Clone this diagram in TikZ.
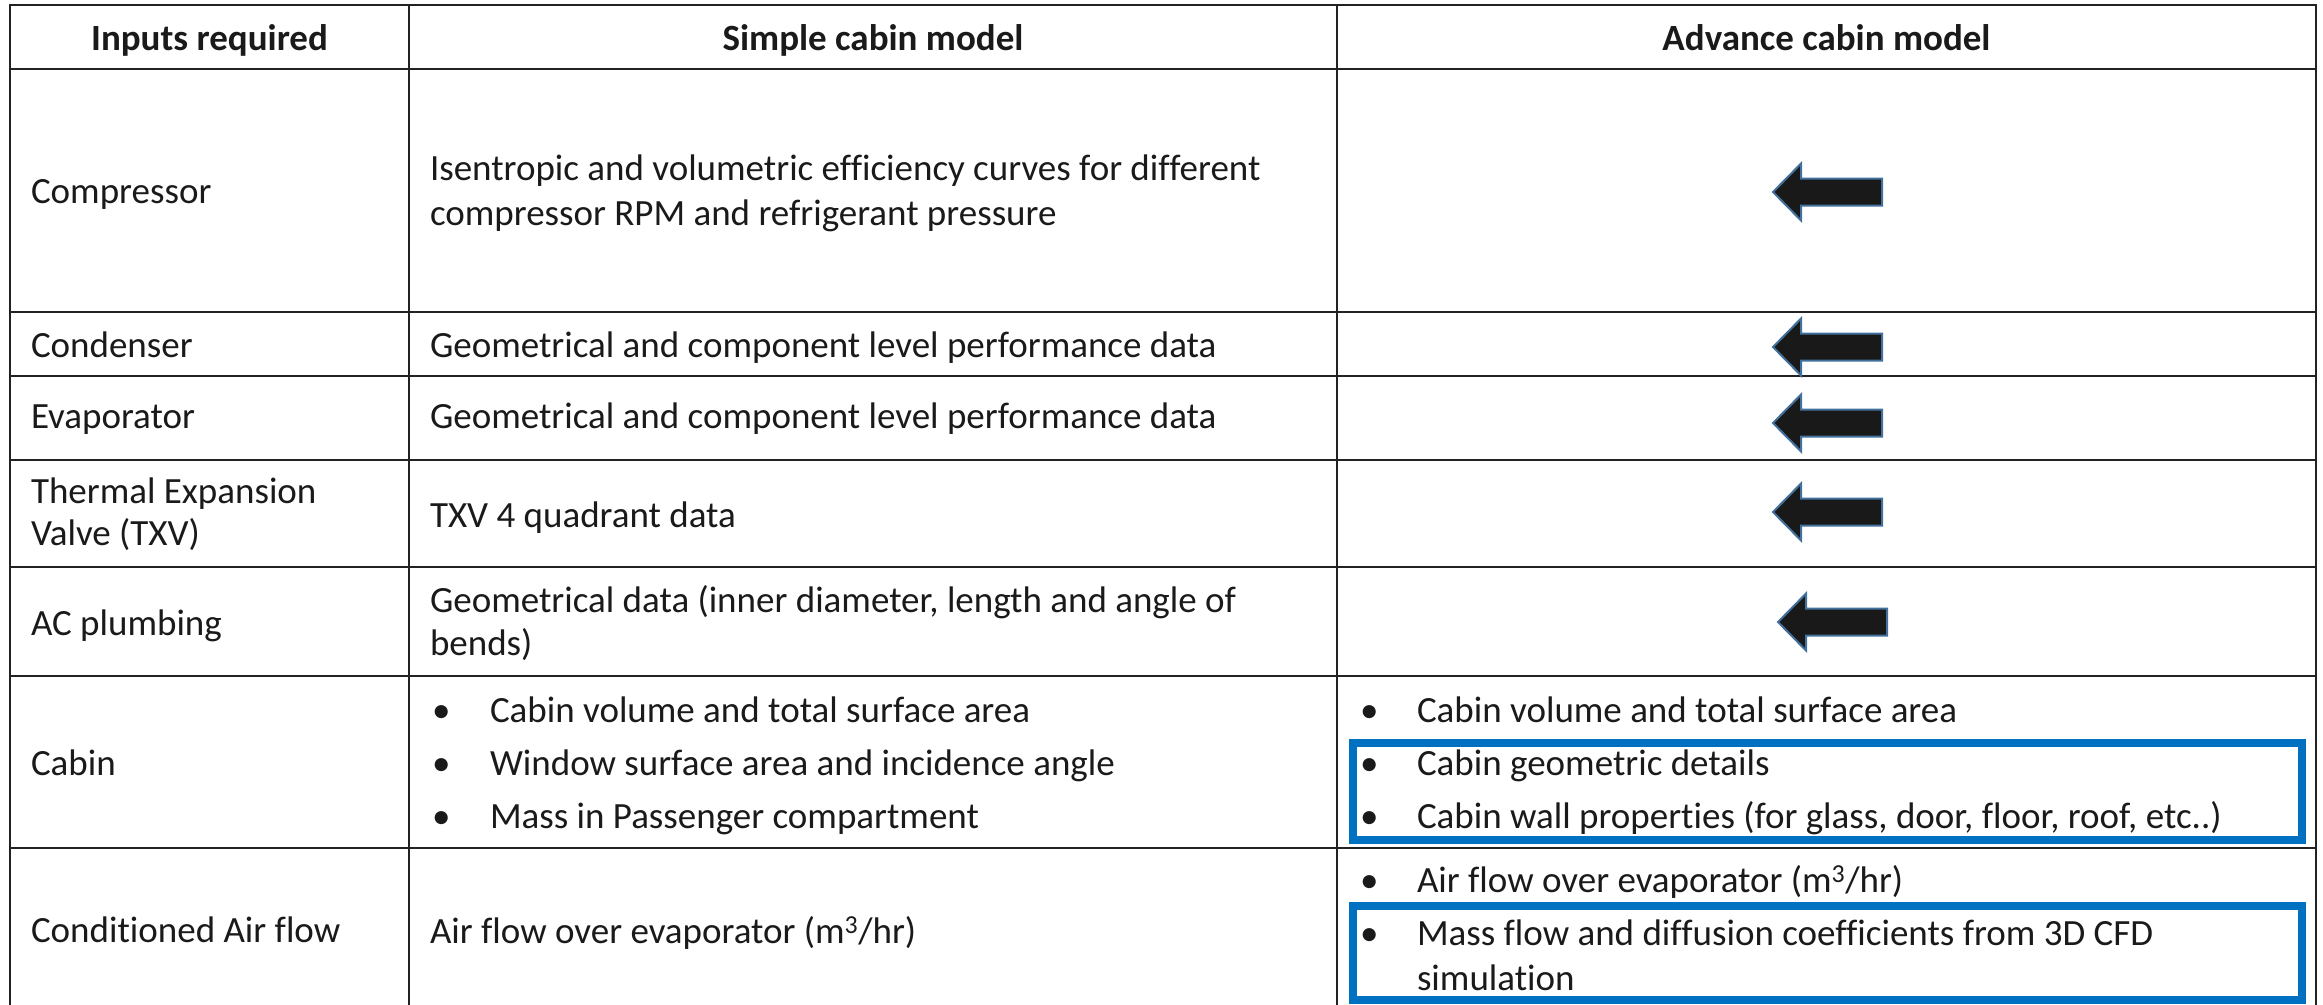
\documentclass[tikz,border=0pt]{standalone}
\usepackage{fontspec}
\setmainfont[Ligatures=NoCommon]{Carlito}
\definecolor{txt}{HTML}{1A1A1A}
\definecolor{gridc}{HTML}{222222}
\definecolor{hiblue}{HTML}{0070C0}
\definecolor{arrowfill}{HTML}{191919}
\definecolor{arrowedge}{HTML}{41719C}
\tikzset{
  backarrow/.pic={
    \path[arrowshape] (-54.5,0) -- (-26.5,-28.5) -- (-26.5,-13.5) -- (54.5,-13.5)
      -- (54.5,13.5) -- (-26.5,13.5) -- (-26.5,28.5) -- cycle;
  }
}
\begin{document}
\begin{tikzpicture}[x=1pt,y=-1pt,
  every node/.style={inner sep=0pt, outer sep=0pt, text=txt,
    font=\fontsize{37}{44}\selectfont},
  cell/.style={anchor=base west},
  head/.style={anchor=base, font=\fontsize{37}{44}\selectfont\bfseries},
  rule/.style={draw=gridc, line width=2.8pt},
  hilite/.style={draw=hiblue, line width=8pt},
  arrowshape/.style={fill=arrowfill, draw=arrowedge, line width=2pt, line join=miter}]

\useasboundingbox[fill=white] (0,0) rectangle (2323,1004);

% grid of the table
\draw[rule] (10,1010) -- (10,5) -- (2316,5) -- (2316,1010);
\draw[rule] (409,5) -- (409,1010);
\draw[rule] (1337,5) -- (1337,1010);
\foreach \yy in {69,312,376,460,567,676,848}
  \draw[rule] (10,\yy) -- (2316,\yy);

% header row
\node[head] (h1) at (209.5,50) {Inputs required};
\node[head] (h2) at (873,50) {Simple cabin model};
\node[head] (h3) at (1826.5,50) {Advance cabin model};

% first column
\node[cell] (c1) at (31,203) {Compressor};
\node[cell] (c2) at (31,357) {Condenser};
\node[cell] (c3) at (31,428) {Evaporator};
\node[cell] (c4a) at (31,503) {Thermal Expansion};
\node[cell] (c4b) at (31,545) {Valve (TXV)};
\node[cell] (c5) at (31,635) {AC plumbing};
\node[cell] (c6) at (31,775) {Cabin};
\node[cell] (c7) at (31,942) {Conditioned Air flow};

% simple cabin model
\node[cell] (s1a) at (430,180) {Isentropic and volumetric efficiency curves for different};
\node[cell] (s1b) at (430,225) {compressor RPM and refrigerant pressure};
\node[cell] (s2) at (430,357) {Geometrical and component level performance data};
\node[cell] (s3) at (430,428) {Geometrical and component level performance data};
\node[cell] (s4) at (430,527) {TXV 4 quadrant data};
\node[cell] (s5a) at (430,612) {Geometrical data (inner diameter, length and angle of};
\node[cell] (s5b) at (430,655) {bends)};
\node[cell] (s6ab) at (432,722) {•};
\node[cell] (s6a) at (490,722) {Cabin volume and total surface area};
\node[cell] (s6bb) at (432,775) {•};
\node[cell] (s6b) at (490,775) {Window surface area and incidence angle};
\node[cell] (s6cb) at (432,828) {•};
\node[cell] (s6c) at (490,828) {Mass in Passenger compartment};
\node[cell] (s7) at (430,943) {Air flow over evaporator (m\textsuperscript{3}/hr)};

% advance cabin model: same inputs as the simple model
\pic at (1827.5,192) {backarrow};
\pic at (1827.5,347) {backarrow};
\pic at (1827.5,423) {backarrow};
\pic at (1827.5,512) {backarrow};
\pic at (1832.5,622) {backarrow};

\node[cell] (a6ab) at (1360,722) {•};
\node[cell] (a6a) at (1417,722) {Cabin volume and total surface area};
\node[cell] (a6bb) at (1360,775) {•};
\node[cell] (a6b) at (1417,775) {Cabin geometric details};
\node[cell] (a6cb) at (1360,828) {•};
\node[cell] (a6c) at (1417,828) {Cabin wall properties (for glass, door, floor, roof, etc..)};
\node[cell] (a7ab) at (1360,892) {•};
\node[cell] (a7a) at (1417,892) {Air flow over evaporator (m\textsuperscript{3}/hr)};
\node[cell] (a7bb) at (1360,945) {•};
\node[cell] (a7b) at (1417,945) {Mass flow and diffusion coefficients from 3D CFD};
\node[cell] (a7c) at (1417,990) {simulation};

% highlighted additions of the advance model
\draw[hilite] (1353,742.5) rectangle (2302,840);
\draw[hilite] (1353,906) rectangle (2302,1000);
\end{tikzpicture}
\end{document}
